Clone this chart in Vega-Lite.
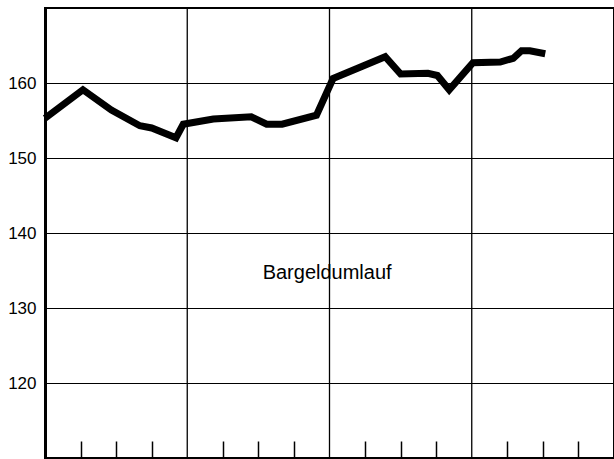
{
  "$schema": "https://vega.github.io/schema/vega-lite/v6.json",
  "width": 569,
  "height": 450,
  "autosize": {"type": "none"},
  "padding": {"left": 45, "top": 8, "right": 0, "bottom": 1},
  "background": "white",
  "config": {
    "view": {"stroke": "black", "strokeWidth": 2},
    "font": "Liberation Sans"
  },
  "datasets": {
    "serie": [
      {"monat": 0, "wert": 155.3},
      {"monat": 3.2, "wert": 159.1},
      {"monat": 5.6, "wert": 156.4},
      {"monat": 8.0, "wert": 154.3},
      {"monat": 9.0, "wert": 154.0},
      {"monat": 11.05, "wert": 152.7},
      {"monat": 11.66, "wert": 154.5},
      {"monat": 14.2, "wert": 155.2},
      {"monat": 17.4, "wert": 155.5},
      {"monat": 18.7, "wert": 154.5},
      {"monat": 20.0, "wert": 154.5},
      {"monat": 22.9, "wert": 155.7},
      {"monat": 24.3, "wert": 160.6},
      {"monat": 28.7, "wert": 163.5},
      {"monat": 30.0, "wert": 161.2},
      {"monat": 32.3, "wert": 161.3},
      {"monat": 33.1, "wert": 161.0},
      {"monat": 34.1, "wert": 159.1},
      {"monat": 36.1, "wert": 162.7},
      {"monat": 38.4, "wert": 162.8},
      {"monat": 39.5, "wert": 163.3},
      {"monat": 40.2, "wert": 164.3},
      {"monat": 40.9, "wert": 164.3},
      {"monat": 42.2, "wert": 163.9}
    ],
    "jahre": [{"monat": 12}, {"monat": 24}, {"monat": 36}],
    "beschriftung": [{"monat": 23.8, "wert": 134.7, "text": "Bargeldumlauf"}]
  },
  "layer": [
    {
      "data": {"name": "jahre"},
      "mark": {"type": "rule", "color": "black", "strokeWidth": 1.3},
      "encoding": {
        "x": {
          "field": "monat", "type": "quantitative",
          "scale": {"domain": [0, 48], "nice": false, "zero": false},
          "axis": {
            "values": [3, 6, 9, 15, 18, 21, 27, 30, 33, 39, 42, 45],
            "labels": false, "title": null, "grid": false,
            "ticks": true, "tickSize": -17, "tickWidth": 1.5, "tickColor": "black",
            "domain": true, "domainColor": "black", "domainWidth": 2.5
          }
        }
      }
    },
    {
      "data": {"name": "serie"},
      "mark": {"type": "line", "color": "black", "strokeWidth": 7, "strokeJoin": "miter", "strokeCap": "butt"},
      "encoding": {
        "x": {"field": "monat", "type": "quantitative"},
        "y": {
          "field": "wert", "type": "quantitative",
          "scale": {"domain": [110, 170], "nice": false, "zero": false},
          "axis": {
            "values": [120, 130, 140, 150, 160],
            "title": null, "grid": true, "gridColor": "black", "gridWidth": 1.2, "gridOpacity": 1,
            "ticks": false, "labelPadding": 9, "labelFontSize": 17, "labelColor": "black",
            "labelFont": "Liberation Sans",
            "domain": true, "domainColor": "black", "domainWidth": 3
          }
        }
      }
    },
    {
      "data": {"name": "beschriftung"},
      "mark": {"type": "text", "fontSize": 20, "color": "black", "font": "Liberation Sans", "align": "center", "baseline": "middle"},
      "encoding": {
        "x": {"field": "monat", "type": "quantitative"},
        "y": {"field": "wert", "type": "quantitative"},
        "text": {"field": "text"}
      }
    }
  ]
}
